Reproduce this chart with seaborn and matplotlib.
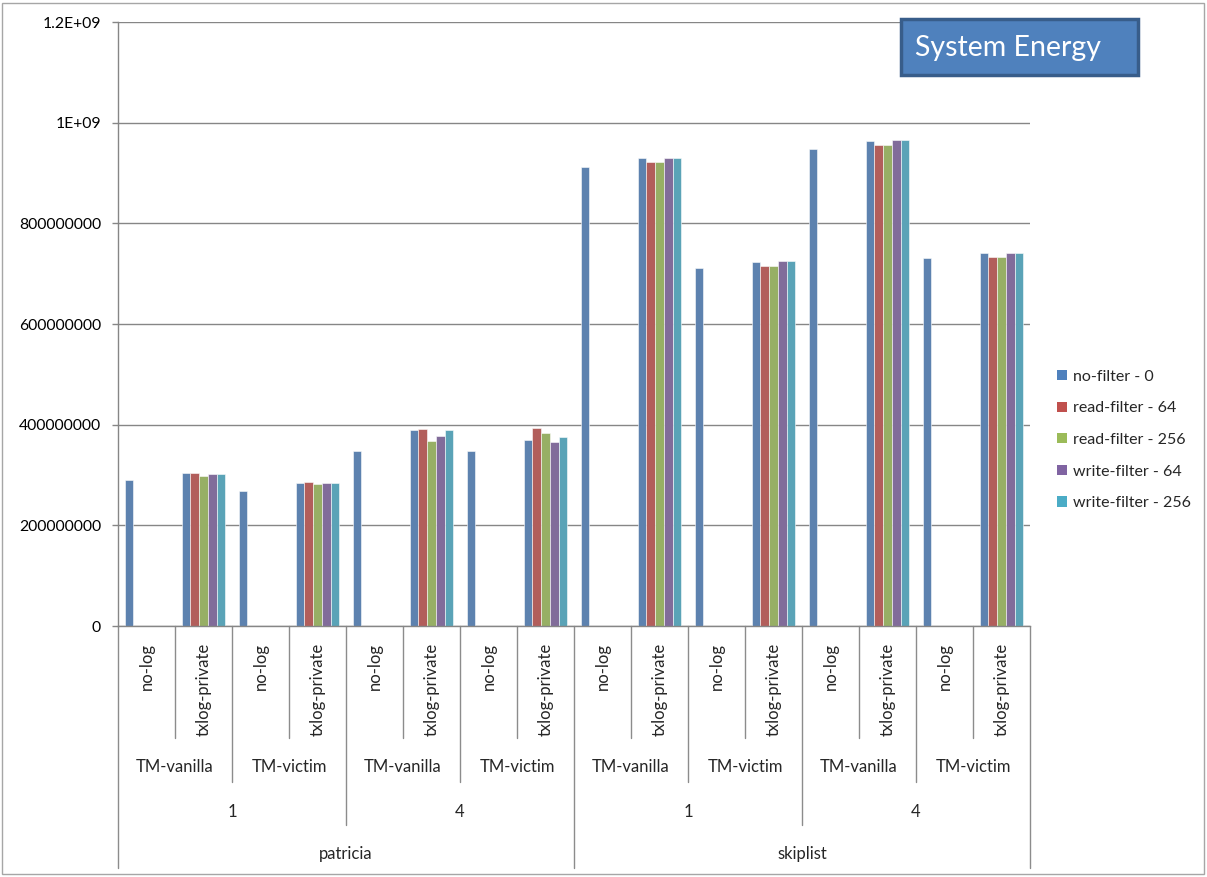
import numpy as np
import pandas as pd
import matplotlib
matplotlib.use("Agg")
import matplotlib.pyplot as plt
import matplotlib.transforms as mtransforms
from matplotlib.patches import Patch, Rectangle
import seaborn as sns

nan = np.nan

# Category hierarchy (outermost to innermost)
benchmarks = ["patricia", "skiplist"]
threads = ["1", "4"]
tm_variants = ["TM-vanilla", "TM-victim"]
log_modes = ["no-log", "txlog-private"]

series_names = ["no-filter - 0", "read-filter - 64", "read-filter - 256",
                "write-filter - 64", "write-filter - 256"]
series_colors = ["#4F81BD", "#C0504D", "#9BBB59", "#8064A2", "#4BACC6"]

# System energy per category (16 leaf categories, in hierarchy order)
no_filter_0 = [291e6, 303e6, 268e6, 285e6, 348e6, 389e6, 348e6, 370e6,
               911e6, 929e6, 712e6, 723e6, 948e6, 964e6, 732e6, 741e6]
read_filter_64 = [nan, 303e6, nan, 287e6, nan, 391e6, nan, 393e6,
                  nan, 921e6, nan, 715e6, nan, 956e6, nan, 733e6]
read_filter_256 = [nan, 298e6, nan, 282e6, nan, 368e6, nan, 383e6,
                   nan, 921e6, nan, 715e6, nan, 956e6, nan, 733e6]
write_filter_64 = [nan, 302e6, nan, 284e6, nan, 378e6, nan, 366e6,
                   nan, 930e6, nan, 725e6, nan, 965e6, nan, 742e6]
write_filter_256 = [nan, 302e6, nan, 284e6, nan, 389e6, nan, 376e6,
                    nan, 930e6, nan, 725e6, nan, 965e6, nan, 742e6]

y_ticks = [0, 200e6, 400e6, 600e6, 800e6, 1000e6, 1200e6]
y_tick_labels = ["0", "200000000", "400000000", "600000000", "800000000",
                 "1E+09", "1.2E+09"]

# ---- build long-form table ----
leaf_keys = []
leaf_info = []
for b in benchmarks:
    for t in threads:
        for tm in tm_variants:
            for lg in log_modes:
                leaf_keys.append(f"{b}|{t}|{tm}|{lg}")
                leaf_info.append((b, t, tm, lg))

all_series = [no_filter_0, read_filter_64, read_filter_256,
              write_filter_64, write_filter_256]
rows = []
for name, vals in zip(series_names, all_series):
    for key, v in zip(leaf_keys, vals):
        if not np.isnan(v):
            rows.append({"category": key, "series": name, "energy": v})
df = pd.DataFrame(rows)

sns.set_theme(style="white")
plt.rcParams["font.family"] = ["Lato", "DejaVu Sans"]

W, H = 1207, 877
fig = plt.figure(figsize=(W / 100, H / 100), dpi=100)
ax = fig.add_axes([118 / W, 1 - 626 / H, 912 / W, 604 / H])

sns.barplot(data=df, x="category", y="energy", hue="series",
            order=leaf_keys, hue_order=series_names,
            palette=series_colors, width=0.77, gap=0,
            edgecolor=(1, 1, 1, 0.55), linewidth=0.7,
            legend=False, ax=ax, errorbar=None)

grid_c = "#868686"
ax.set_xlim(-0.5, len(leaf_keys) - 0.5)
ax.set_ylim(0, 1200e6)
ax.set_yticks(y_ticks)
ax.set_yticklabels(y_tick_labels)
ax.yaxis.grid(True, color=grid_c, lw=1)
ax.set_axisbelow(True)
ax.set_xlabel("")
ax.set_ylabel("")
ax.set_xticks([])
for s in ["top", "right"]:
    ax.spines[s].set_visible(False)
for s in ["left", "bottom"]:
    ax.spines[s].set_color(grid_c)
    ax.spines[s].set_linewidth(1)
ax.tick_params(axis="y", direction="out", length=4.3, width=1, color=grid_c,
               pad=8.0, labelsize=11.3, labelcolor="black", left=True)

# ---- hierarchical category axis ----
def yfrac(px):
    return (626 - px) / 604

trans = mtransforms.blended_transform_factory(ax.transData, ax.transAxes)
sep_c = "#8c8c8c"
n = len(leaf_keys)
for k in range(n + 1):
    if k % 8 == 0:
        bottom = 868
    elif k % 4 == 0:
        bottom = 825
    elif k % 2 == 0:
        bottom = 782
    else:
        bottom = 738
    ax.plot([k - 0.5, k - 0.5], [0, yfrac(bottom)], transform=trans,
            color=sep_c, lw=1, clip_on=False)

lab_fs = 12
for i, (b, t, tm, lg) in enumerate(leaf_info):
    ax.text(i, yfrac(643), lg, rotation=90, ha="center", va="top",
            transform=trans, fontsize=lab_fs)
for j in range(n // 2):
    ax.text(2 * j + 0.5, yfrac(767), leaf_info[2 * j][2], ha="center",
            va="center", transform=trans, fontsize=lab_fs)
for j in range(n // 4):
    ax.text(4 * j + 1.5, yfrac(812), leaf_info[4 * j][1], ha="center",
            va="center", transform=trans, fontsize=lab_fs)
for j in range(n // 8):
    ax.text(8 * j + 3.5, yfrac(854), leaf_info[8 * j][0], ha="center",
            va="center", transform=trans, fontsize=lab_fs)

# ---- legend ----
handles = [Patch(facecolor=c, edgecolor="none") for c in series_colors]
fig.legend(handles, series_names, loc="center left",
           bbox_to_anchor=(1057 / W, 1 - 440 / H), frameon=False,
           fontsize=11.5, handlelength=0.6, handleheight=0.6,
           handletextpad=0.4, labelspacing=1.1, borderpad=0,
           borderaxespad=0)

# ---- title box ----
fig.patches.append(Rectangle((901 / W, 1 - 75 / H), 237 / W, 56 / H,
                             transform=fig.transFigure, facecolor="#4F81BD",
                             edgecolor="#385D8A", lw=2.5, zorder=5))
fig.text(915 / W, 1 - 48 / H, "System Energy", color="white", fontsize=20.5,
         ha="left", va="center", zorder=6)

# outer chart border
fig.patches.append(Rectangle((2 / W, 3 / H), (W - 5) / W, (H - 6) / H,
                             transform=fig.transFigure, fill=False,
                             edgecolor="#a6a6a6", lw=1))

fig.savefig("out.png", dpi=100)
